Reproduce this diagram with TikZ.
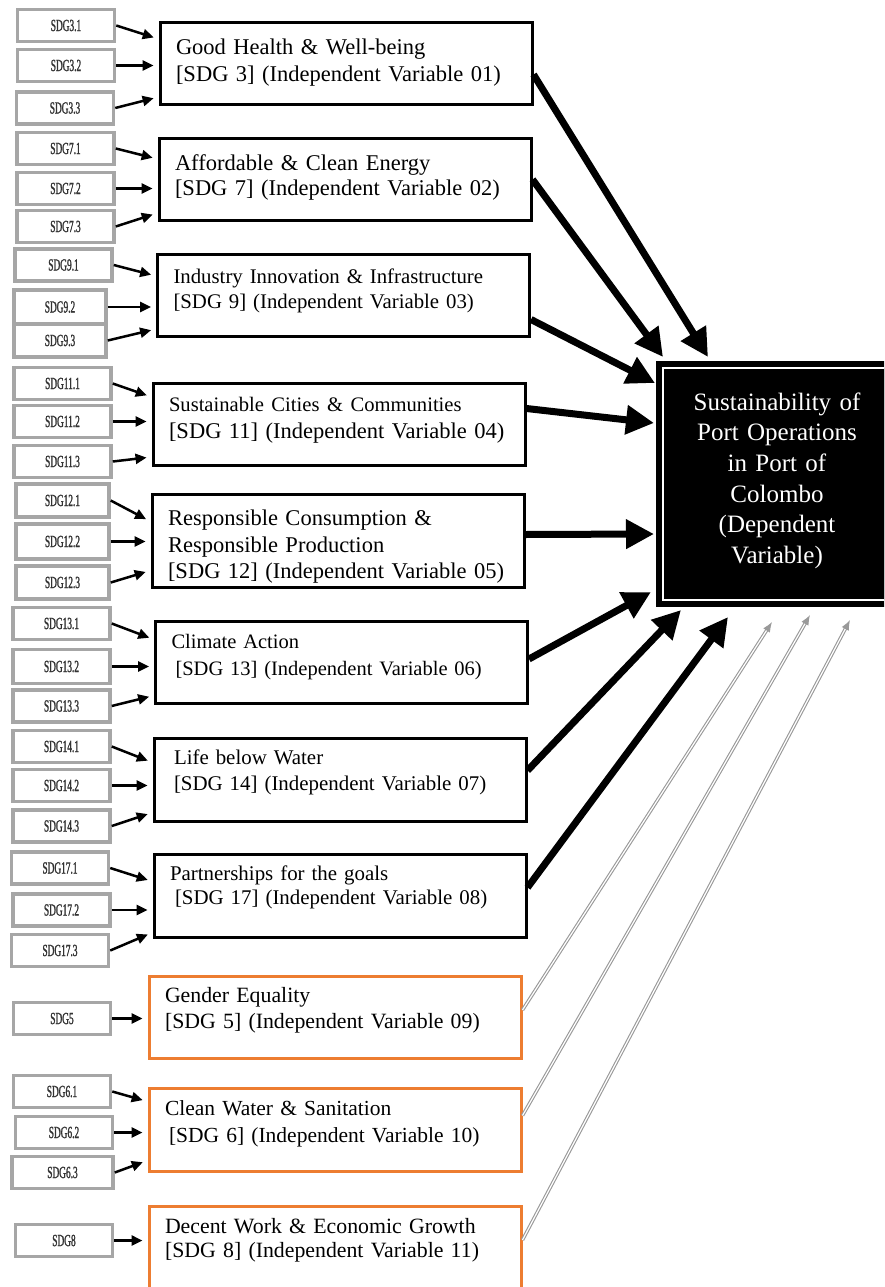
\documentclass[tikz,border=0pt]{standalone}
\usepackage{fontspec}
\setmainfont{Liberation Serif}
\newfontfamily\sdgfont[FakeStretch=0.55, FakeBold=1.2]{Liberation Serif}
\usepackage{xcolor}
\usepackage{tikz}
\usetikzlibrary{arrows.meta, positioning}
\definecolor{sdggrey}{HTML}{A6A6A6}
\definecolor{ivorange}{HTML}{ED7D31}

\begin{document}
\begin{tikzpicture}[
    x=1pt, y=-1pt,
    ivbox/.style={rectangle, draw, line width=3pt, minimum width=372pt, minimum height=82pt, inner xsep=16pt, inner ysep=4pt, text width=340pt, align=left, text depth=44pt, font=\fontsize{21}{26}\selectfont},
    extbox/.style={ivbox, draw=ivorange},
    sdgbox/.style={rectangle, draw=sdggrey, line width=3.5pt, minimum width=97pt, minimum height=32pt, inner sep=0pt, text=black!80, font=\sdgfont\fontsize{17}{17}\selectfont},
    dvbox/.style={rectangle, fill=black, draw=black, double=white, double distance=2pt, line width=6pt, outer sep=0pt, minimum width=228pt, minimum height=232pt, text width=210pt, align=center, text=white, text depth=165pt, font=\fontsize{25}{30.6}\selectfont},
    sarrow/.style={-{Triangle[length=11pt, width=10pt]}, line width=2.5pt, shorten >=5pt},
    dvarrow/.style={-{Triangle[length=28pt, width=28pt]}, line width=7pt},
    extarrow/.style={-{Latex[length=10pt, width=8pt]}, draw=gray!80, double=white, double distance=1.2pt, line width=1.1pt}
]
\useasboundingbox (0,0) rectangle (884,1287);
\fill[white] (0,0) rectangle (884,1287);
\clip (0,0) rectangle (884,1287);

% Independent variables (SDG boxes)
\node[ivbox, text depth=33pt, font=\fontsize{22.5}{27}\selectfont] (iv1) at (346,63.5) {Good Health \& Well-being\\ {}[SDG 3] (Independent Variable 01)};
\node[ivbox, text depth=33pt, font=\fontsize{22.5}{25}\selectfont] (iv2) at (345,179.5) {Affordable \& Clean Energy\\ {}[SDG 7] (Independent Variable 02)};
\node[ivbox, text depth=39pt, font=\fontsize{20.8}{25}\selectfont] (iv3) at (343.5,295.5) {Industry Innovation \& Infrastructure\\ {}[SDG 9] (Independent Variable 03)};
\node[ivbox, text depth=41pt, font=\fontsize{22.5}{27}\selectfont] (iv4) at (339,424.5) {{\fontsize{20.6}{27}\selectfont Sustainable Cities \& Communities}\\ {}[SDG 11] (Independent Variable 04)};
\node[ivbox, minimum height=93pt, text depth=45pt, font=\fontsize{22.5}{26.5}\selectfont] (iv5) at (338,540.5) {Responsible Consumption \&\\ Responsible Production\\ {}[SDG 12] (Independent Variable 05)};
\node[ivbox, text depth=42pt, font=\fontsize{20.5}{27}\selectfont] (iv6) at (341.5,662) {Climate Action\\ \hspace*{4pt}[SDG 13] (Independent Variable 06)};
\node[ivbox, minimum height=83pt, text depth=45pt, font=\fontsize{20.9}{26}\selectfont] (iv7) at (340,779.5) {\hspace*{4pt}Life below Water\\ \hspace*{4pt}[SDG 14] (Independent Variable 07)};
\node[ivbox, minimum height=83pt, text depth=45pt, font=\fontsize{20.9}{24}\selectfont] (iv8) at (340,895.5) {Partnerships for the goals\\ \hspace*{5pt}[SDG 17] (Independent Variable 08)};

% Additional independent variables
\node[extbox, text depth=44pt, font=\fontsize{21.8}{26}\selectfont] (iv9) at (335,1017) {Gender Equality\\ {}[SDG 5] (Independent Variable 09)};
\node[extbox, minimum height=83pt, text depth=43pt, font=\fontsize{21.5}{27}\selectfont] (iv10) at (335,1129.5) {Clean Water \& Sanitation\\ \hspace*{4pt}[SDG 6] (Independent Variable 10)};
\node[extbox, minimum height=84pt, text depth=44pt, font=\fontsize{21.8}{24}\selectfont] (iv11) at (335,1248) {Decent Work \& Economic Growth\\ {}[SDG 8] (Independent Variable 11)};

% Dependent variable
\node[dvbox] (dv) at (777,484) {Sustainability of\\ Port Operations\\ in Port of\\ Colombo\\ (Dependent\\ Variable)};

% SDG 3 targets
\node[sdgbox] (s31) at (66,25.5) {SDG3.1};
\node[sdgbox] (s32) at (66,65.5) {SDG3.2};
\node[sdgbox] (s33) at (65,108) {SDG3.3};
\draw[sarrow] (s31.east) -- ([yshift=-18pt]iv1.north west);
\draw[sarrow] (s32.east) -- (s32.east -| iv1.west);
\draw[sarrow] (s33.east) -- ([yshift=9pt]iv1.south west);

% SDG 7 targets
\node[sdgbox] (s71) at (65.5,148.5) {SDG7.1};
\node[sdgbox] (s72) at (65.5,188.5) {SDG7.2};
\node[sdgbox] (s73) at (65.5,226.5) {SDG7.3};
\draw[sarrow] (s71.east) -- ([yshift=-22pt]iv2.north west);
\draw[sarrow] (s72.east) -- (s72.east -| iv2.west);
\draw[sarrow] (s73.east) -- ([yshift=9pt]iv2.south west);

% SDG 9 targets
\node[sdgbox] (s91) at (63.5,265) {SDG9.1};
\node[sdgbox, minimum width=92pt, minimum height=34pt] (s92) at (60,307) {SDG9.2};
\node[sdgbox, minimum width=92pt, minimum height=33pt] (s93) at (60,340.5) {SDG9.3};
\draw[sarrow] (s91.east) -- ([yshift=-23pt]iv3.north west);
\draw[sarrow] (s92.east) -- (s92.east -| iv3.west);
\draw[sarrow] (s93.east) -- ([yshift=9pt]iv3.south west);

% SDG 11 targets
\node[sdgbox] (s111) at (62.5,383.5) {SDG11.1};
\node[sdgbox] (s112) at (62.5,421.5) {SDG11.2};
\node[sdgbox] (s113) at (62.5,461.5) {SDG11.3};
\draw[sarrow] (s111.east) -- ([yshift=-15pt]iv4.north west);
\draw[sarrow] (s112.east) -- (s112.east -| iv4.west);
\draw[sarrow] (s113.east) -- ([yshift=10pt]iv4.south west);

% SDG 12 targets
\node[sdgbox, minimum width=93pt, minimum height=33pt] (s121) at (62.5,500.5) {SDG12.1};
\node[sdgbox, minimum width=93pt, minimum height=35pt] (s122) at (62.5,541.5) {SDG12.2};
\node[sdgbox, minimum width=93pt, minimum height=33pt] (s123) at (62.5,582.5) {SDG12.3};
\draw[sarrow] (s121.east) -- ([yshift=-29pt]iv5.north west);
\draw[sarrow] (s122.east) -- (s122.east -| iv5.west);
\draw[sarrow] (s123.east) -- ([yshift=18pt]iv5.south west);

% SDG 13 targets
\node[sdgbox] (s131) at (61.5,623.5) {SDG13.1};
\node[sdgbox, minimum height=34pt] (s132) at (61.5,666.5) {SDG13.2};
\node[sdgbox] (s133) at (61.5,706) {SDG13.3};
\draw[sarrow] (s131.east) -- ([yshift=-20pt]iv6.north west);
\draw[sarrow] (s132.east) -- (s132.east -| iv6.west);
\draw[sarrow] (s133.east) -- ([yshift=9pt]iv6.south west);

% SDG 14 targets
\node[sdgbox] (s141) at (61.5,746.5) {SDG14.1};
\node[sdgbox] (s142) at (61.5,785.5) {SDG14.2};
\node[sdgbox] (s143) at (61.5,826) {SDG14.3};
\draw[sarrow] (s141.east) -- ([yshift=-26pt]iv7.north west);
\draw[sarrow] (s142.east) -- (s142.east -| iv7.west);
\draw[sarrow] (s143.east) -- ([yshift=10pt]iv7.south west);

% SDG 17 targets
\node[sdgbox] (s171) at (60,868) {SDG17.1};
\node[sdgbox] (s172) at (61.5,910) {SDG17.2};
\node[sdgbox] (s173) at (60,950.5) {SDG17.3};
\draw[sarrow] (s171.east) -- ([yshift=-29pt]iv8.north west);
\draw[sarrow] (s172.east) -- (s172.east -| iv8.west);
\draw[sarrow] (s173.east) -- ([yshift=6pt]iv8.south west);

% SDG 5, 6 and 8 targets
\node[sdgbox] (s5) at (62,1018.5) {SDG5};
\draw[sarrow] (s5.east) -- (s5.east -| iv9.west);
\node[sdgbox] (s61) at (62,1091.5) {SDG6.1};
\node[sdgbox] (s62) at (64,1132.5) {SDG6.2};
\node[sdgbox, minimum width=101pt] (s63) at (62.5,1172.5) {SDG6.3};
\draw[sarrow] (s61.east) -- ([yshift=-15pt]iv10.north west);
\draw[sarrow] (s62.east) -- (s62.east -| iv10.west);
\draw[sarrow] (s63.east) -- ([yshift=12pt]iv10.south west);
\node[sdgbox] (s8) at (64,1240.5) {SDG8};
\draw[sarrow] (s8.east) -- (s8.east -| iv11.west);

% Arrows to the dependent variable
\draw[dvarrow] ([yshift=-11pt]iv1.east) -- ([shift={(45pt,11pt)}]dv.north west);
\draw[dvarrow] (iv2.east) -- ([shift={(0pt,11pt)}]dv.north west);
\draw[dvarrow] ([yshift=-24pt]iv3.east) -- ([shift={(-8pt,-15pt)}]dv.north west);
\draw[dvarrow] ([yshift=16pt]iv4.east) -- ([shift={(-9pt,-55pt)}]dv.north west);
\draw[dvarrow] ([yshift=6pt]iv5.east) -- ([shift={(-9pt,-166pt)}]dv.north west);
\draw[dvarrow] ([yshift=3pt]iv6.east) -- ([shift={(-12pt,-224pt)}]dv.north west);
\draw[dvarrow] ([yshift=9pt]iv7.east) -- ([shift={(18pt,-10pt)}]dv.south west);
\draw[dvarrow] ([yshift=8pt]iv8.east) -- ([shift={(65pt,-17pt)}]dv.south west);
\draw[extarrow] ([yshift=7pt]iv9.east) -- ([shift={(109pt,-22pt)}]dv.south west);
\draw[extarrow] ([yshift=14pt]iv10.east) -- ([shift={(147pt,-15pt)}]dv.south west);
\draw[extarrow] ([yshift=8pt]iv11.east) -- ([shift={(187pt,-20pt)}]dv.south west);

\end{tikzpicture}
\end{document}
